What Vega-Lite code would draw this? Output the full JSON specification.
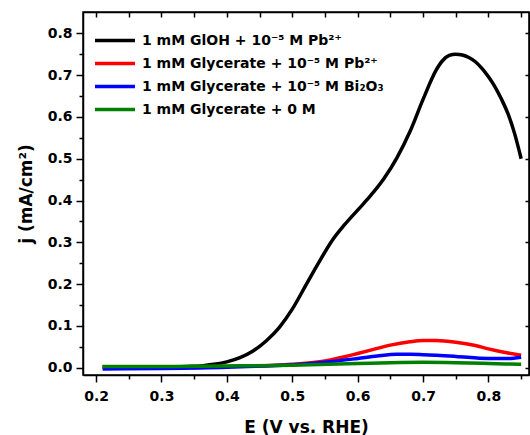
{
  "$schema": "https://vega.github.io/schema/vega-lite/v6.json",
  "width": 446,
  "height": 363,
  "autosize": {"type": "none"},
  "padding": {"left": 83, "top": 12, "right": 1, "bottom": 60},
  "background": "white",
  "config": {
    "view": {"stroke": "black", "strokeWidth": 1.5},
    "axis": {
      "domainColor": "black", "domainWidth": 1.5,
      "tickColor": "black", "tickWidth": 1.5,
      "labelFont": "DejaVu Sans", "labelFontWeight": "bold", "labelFontSize": 14, "labelColor": "black",
      "titleFont": "DejaVu Sans", "titleFontWeight": "bold", "titleFontSize": 17, "titleColor": "black",
      "grid": false
    }
  },
  "data": {"values": [
    {"E": 0.21, "j": 0.002, "s": "1 mM GlOH + 10⁻⁵ M Pb²⁺"},
    {"E": 0.25, "j": 0.002, "s": "1 mM GlOH + 10⁻⁵ M Pb²⁺"},
    {"E": 0.30, "j": 0.002, "s": "1 mM GlOH + 10⁻⁵ M Pb²⁺"},
    {"E": 0.34, "j": 0.003, "s": "1 mM GlOH + 10⁻⁵ M Pb²⁺"},
    {"E": 0.36, "j": 0.004, "s": "1 mM GlOH + 10⁻⁵ M Pb²⁺"},
    {"E": 0.38, "j": 0.008, "s": "1 mM GlOH + 10⁻⁵ M Pb²⁺"},
    {"E": 0.40, "j": 0.014, "s": "1 mM GlOH + 10⁻⁵ M Pb²⁺"},
    {"E": 0.42, "j": 0.024, "s": "1 mM GlOH + 10⁻⁵ M Pb²⁺"},
    {"E": 0.44, "j": 0.040, "s": "1 mM GlOH + 10⁻⁵ M Pb²⁺"},
    {"E": 0.46, "j": 0.064, "s": "1 mM GlOH + 10⁻⁵ M Pb²⁺"},
    {"E": 0.48, "j": 0.096, "s": "1 mM GlOH + 10⁻⁵ M Pb²⁺"},
    {"E": 0.50, "j": 0.140, "s": "1 mM GlOH + 10⁻⁵ M Pb²⁺"},
    {"E": 0.52, "j": 0.195, "s": "1 mM GlOH + 10⁻⁵ M Pb²⁺"},
    {"E": 0.54, "j": 0.250, "s": "1 mM GlOH + 10⁻⁵ M Pb²⁺"},
    {"E": 0.56, "j": 0.302, "s": "1 mM GlOH + 10⁻⁵ M Pb²⁺"},
    {"E": 0.58, "j": 0.342, "s": "1 mM GlOH + 10⁻⁵ M Pb²⁺"},
    {"E": 0.60, "j": 0.377, "s": "1 mM GlOH + 10⁻⁵ M Pb²⁺"},
    {"E": 0.62, "j": 0.412, "s": "1 mM GlOH + 10⁻⁵ M Pb²⁺"},
    {"E": 0.64, "j": 0.452, "s": "1 mM GlOH + 10⁻⁵ M Pb²⁺"},
    {"E": 0.66, "j": 0.502, "s": "1 mM GlOH + 10⁻⁵ M Pb²⁺"},
    {"E": 0.68, "j": 0.565, "s": "1 mM GlOH + 10⁻⁵ M Pb²⁺"},
    {"E": 0.70, "j": 0.642, "s": "1 mM GlOH + 10⁻⁵ M Pb²⁺"},
    {"E": 0.72, "j": 0.712, "s": "1 mM GlOH + 10⁻⁵ M Pb²⁺"},
    {"E": 0.73, "j": 0.735, "s": "1 mM GlOH + 10⁻⁵ M Pb²⁺"},
    {"E": 0.74, "j": 0.747, "s": "1 mM GlOH + 10⁻⁵ M Pb²⁺"},
    {"E": 0.75, "j": 0.750, "s": "1 mM GlOH + 10⁻⁵ M Pb²⁺"},
    {"E": 0.76, "j": 0.748, "s": "1 mM GlOH + 10⁻⁵ M Pb²⁺"},
    {"E": 0.77, "j": 0.742, "s": "1 mM GlOH + 10⁻⁵ M Pb²⁺"},
    {"E": 0.78, "j": 0.732, "s": "1 mM GlOH + 10⁻⁵ M Pb²⁺"},
    {"E": 0.79, "j": 0.716, "s": "1 mM GlOH + 10⁻⁵ M Pb²⁺"},
    {"E": 0.80, "j": 0.696, "s": "1 mM GlOH + 10⁻⁵ M Pb²⁺"},
    {"E": 0.81, "j": 0.672, "s": "1 mM GlOH + 10⁻⁵ M Pb²⁺"},
    {"E": 0.82, "j": 0.642, "s": "1 mM GlOH + 10⁻⁵ M Pb²⁺"},
    {"E": 0.83, "j": 0.607, "s": "1 mM GlOH + 10⁻⁵ M Pb²⁺"},
    {"E": 0.84, "j": 0.560, "s": "1 mM GlOH + 10⁻⁵ M Pb²⁺"},
    {"E": 0.85, "j": 0.500, "s": "1 mM GlOH + 10⁻⁵ M Pb²⁺"},

    {"E": 0.21, "j": 0.001, "s": "1 mM Glycerate + 10⁻⁵ M Pb²⁺"},
    {"E": 0.30, "j": 0.002, "s": "1 mM Glycerate + 10⁻⁵ M Pb²⁺"},
    {"E": 0.40, "j": 0.003, "s": "1 mM Glycerate + 10⁻⁵ M Pb²⁺"},
    {"E": 0.45, "j": 0.004, "s": "1 mM Glycerate + 10⁻⁵ M Pb²⁺"},
    {"E": 0.50, "j": 0.008, "s": "1 mM Glycerate + 10⁻⁵ M Pb²⁺"},
    {"E": 0.55, "j": 0.016, "s": "1 mM Glycerate + 10⁻⁵ M Pb²⁺"},
    {"E": 0.58, "j": 0.026, "s": "1 mM Glycerate + 10⁻⁵ M Pb²⁺"},
    {"E": 0.60, "j": 0.034, "s": "1 mM Glycerate + 10⁻⁵ M Pb²⁺"},
    {"E": 0.62, "j": 0.042, "s": "1 mM Glycerate + 10⁻⁵ M Pb²⁺"},
    {"E": 0.65, "j": 0.054, "s": "1 mM Glycerate + 10⁻⁵ M Pb²⁺"},
    {"E": 0.68, "j": 0.062, "s": "1 mM Glycerate + 10⁻⁵ M Pb²⁺"},
    {"E": 0.70, "j": 0.065, "s": "1 mM Glycerate + 10⁻⁵ M Pb²⁺"},
    {"E": 0.72, "j": 0.065, "s": "1 mM Glycerate + 10⁻⁵ M Pb²⁺"},
    {"E": 0.75, "j": 0.061, "s": "1 mM Glycerate + 10⁻⁵ M Pb²⁺"},
    {"E": 0.78, "j": 0.053, "s": "1 mM Glycerate + 10⁻⁵ M Pb²⁺"},
    {"E": 0.80, "j": 0.045, "s": "1 mM Glycerate + 10⁻⁵ M Pb²⁺"},
    {"E": 0.82, "j": 0.038, "s": "1 mM Glycerate + 10⁻⁵ M Pb²⁺"},
    {"E": 0.85, "j": 0.030, "s": "1 mM Glycerate + 10⁻⁵ M Pb²⁺"},

    {"E": 0.21, "j": -0.003, "s": "1 mM Glycerate + 10⁻⁵ M Bi₂O₃"},
    {"E": 0.30, "j": -0.002, "s": "1 mM Glycerate + 10⁻⁵ M Bi₂O₃"},
    {"E": 0.40, "j": 0.001, "s": "1 mM Glycerate + 10⁻⁵ M Bi₂O₃"},
    {"E": 0.45, "j": 0.004, "s": "1 mM Glycerate + 10⁻⁵ M Bi₂O₃"},
    {"E": 0.50, "j": 0.007, "s": "1 mM Glycerate + 10⁻⁵ M Bi₂O₃"},
    {"E": 0.55, "j": 0.013, "s": "1 mM Glycerate + 10⁻⁵ M Bi₂O₃"},
    {"E": 0.60, "j": 0.022, "s": "1 mM Glycerate + 10⁻⁵ M Bi₂O₃"},
    {"E": 0.63, "j": 0.028, "s": "1 mM Glycerate + 10⁻⁵ M Bi₂O₃"},
    {"E": 0.66, "j": 0.032, "s": "1 mM Glycerate + 10⁻⁵ M Bi₂O₃"},
    {"E": 0.68, "j": 0.032, "s": "1 mM Glycerate + 10⁻⁵ M Bi₂O₃"},
    {"E": 0.70, "j": 0.031, "s": "1 mM Glycerate + 10⁻⁵ M Bi₂O₃"},
    {"E": 0.75, "j": 0.027, "s": "1 mM Glycerate + 10⁻⁵ M Bi₂O₃"},
    {"E": 0.80, "j": 0.022, "s": "1 mM Glycerate + 10⁻⁵ M Bi₂O₃"},
    {"E": 0.83, "j": 0.022, "s": "1 mM Glycerate + 10⁻⁵ M Bi₂O₃"},
    {"E": 0.85, "j": 0.025, "s": "1 mM Glycerate + 10⁻⁵ M Bi₂O₃"},

    {"E": 0.21, "j": 0.003, "s": "1 mM Glycerate + 0 M"},
    {"E": 0.30, "j": 0.003, "s": "1 mM Glycerate + 0 M"},
    {"E": 0.40, "j": 0.004, "s": "1 mM Glycerate + 0 M"},
    {"E": 0.50, "j": 0.006, "s": "1 mM Glycerate + 0 M"},
    {"E": 0.60, "j": 0.010, "s": "1 mM Glycerate + 0 M"},
    {"E": 0.65, "j": 0.012, "s": "1 mM Glycerate + 0 M"},
    {"E": 0.70, "j": 0.013, "s": "1 mM Glycerate + 0 M"},
    {"E": 0.75, "j": 0.012, "s": "1 mM Glycerate + 0 M"},
    {"E": 0.80, "j": 0.010, "s": "1 mM Glycerate + 0 M"},
    {"E": 0.85, "j": 0.008, "s": "1 mM Glycerate + 0 M"}
  ]},
  "resolve": {"axis": {"x": "independent", "y": "independent"}},
  "layer": [
    {
      "mark": {"type": "line", "interpolate": "monotone", "strokeWidth": 3.5},
      "encoding": {
        "x": {
          "field": "E", "type": "quantitative",
          "scale": {"domain": [0.18, 0.862], "nice": false, "zero": false},
          "axis": {
            "orient": "bottom",
            "title": "E (V vs. RHE)",
            "values": [0.2, 0.25, 0.3, 0.35, 0.4, 0.45, 0.5, 0.55, 0.6, 0.65, 0.7, 0.75, 0.8, 0.85],
            "labelExpr": "abs(datum.value*10 - round(datum.value*10)) < 0.001 ? format(datum.value, '.1f') : ''",
            "tickSize": {"condition": {"test": "abs(datum.value*10 - round(datum.value*10)) < 0.001", "value": 7}, "value": 4},
            "labelPadding": 7,
            "titlePadding": 16
          }
        },
        "y": {
          "field": "j", "type": "quantitative",
          "scale": {"domain": [-0.0175, 0.851], "nice": false, "zero": false},
          "axis": {
            "orient": "left",
            "title": "j (mA/cm²)",
            "values": [0, 0.05, 0.1, 0.15, 0.2, 0.25, 0.3, 0.35, 0.4, 0.45, 0.5, 0.55, 0.6, 0.65, 0.7, 0.75, 0.8],
            "labelExpr": "abs(datum.value*10 - round(datum.value*10)) < 0.001 ? format(datum.value, '.1f') : ''",
            "tickSize": {"condition": {"test": "abs(datum.value*10 - round(datum.value*10)) < 0.001", "value": 7}, "value": 4},
            "labelPadding": 4,
            "titlePadding": 12
          }
        },
        "color": {
          "field": "s", "type": "nominal",
          "scale": {
            "domain": ["1 mM GlOH + 10⁻⁵ M Pb²⁺", "1 mM Glycerate + 10⁻⁵ M Pb²⁺", "1 mM Glycerate + 10⁻⁵ M Bi₂O₃", "1 mM Glycerate + 0 M"],
            "range": ["#000000", "#ff0000", "#0000ff", "#008000"]
          },
          "legend": {
            "orient": "none", "legendX": 20, "legendY": 16.5,
            "title": null,
            "symbolType": "M-2,0H2", "symbolSize": 400, "symbolStrokeWidth": 3.5,
            "labelFont": "DejaVu Sans", "labelFontWeight": "bold", "labelFontSize": 14, "labelColor": "black",
            "labelOffset": 15, "rowPadding": 4, "padding": 0, "labelLimit": 400
          }
        }
      }
    },
    {
      "mark": {"type": "point", "opacity": 0},
      "encoding": {
        "x": {
          "field": "E", "type": "quantitative",
          "axis": {
            "orient": "top", "title": null, "labels": false, "tickSize": -5,
            "values": [0.2, 0.25, 0.3, 0.35, 0.4, 0.45, 0.5, 0.55, 0.6, 0.65, 0.7, 0.75, 0.8, 0.85]
          }
        },
        "y": {
          "field": "j", "type": "quantitative",
          "axis": {
            "orient": "right", "title": null, "labels": false, "tickSize": -4,
            "values": [0, 0.1, 0.2, 0.3, 0.4, 0.5, 0.6, 0.7, 0.8]
          }
        }
      }
    }
  ]
}
